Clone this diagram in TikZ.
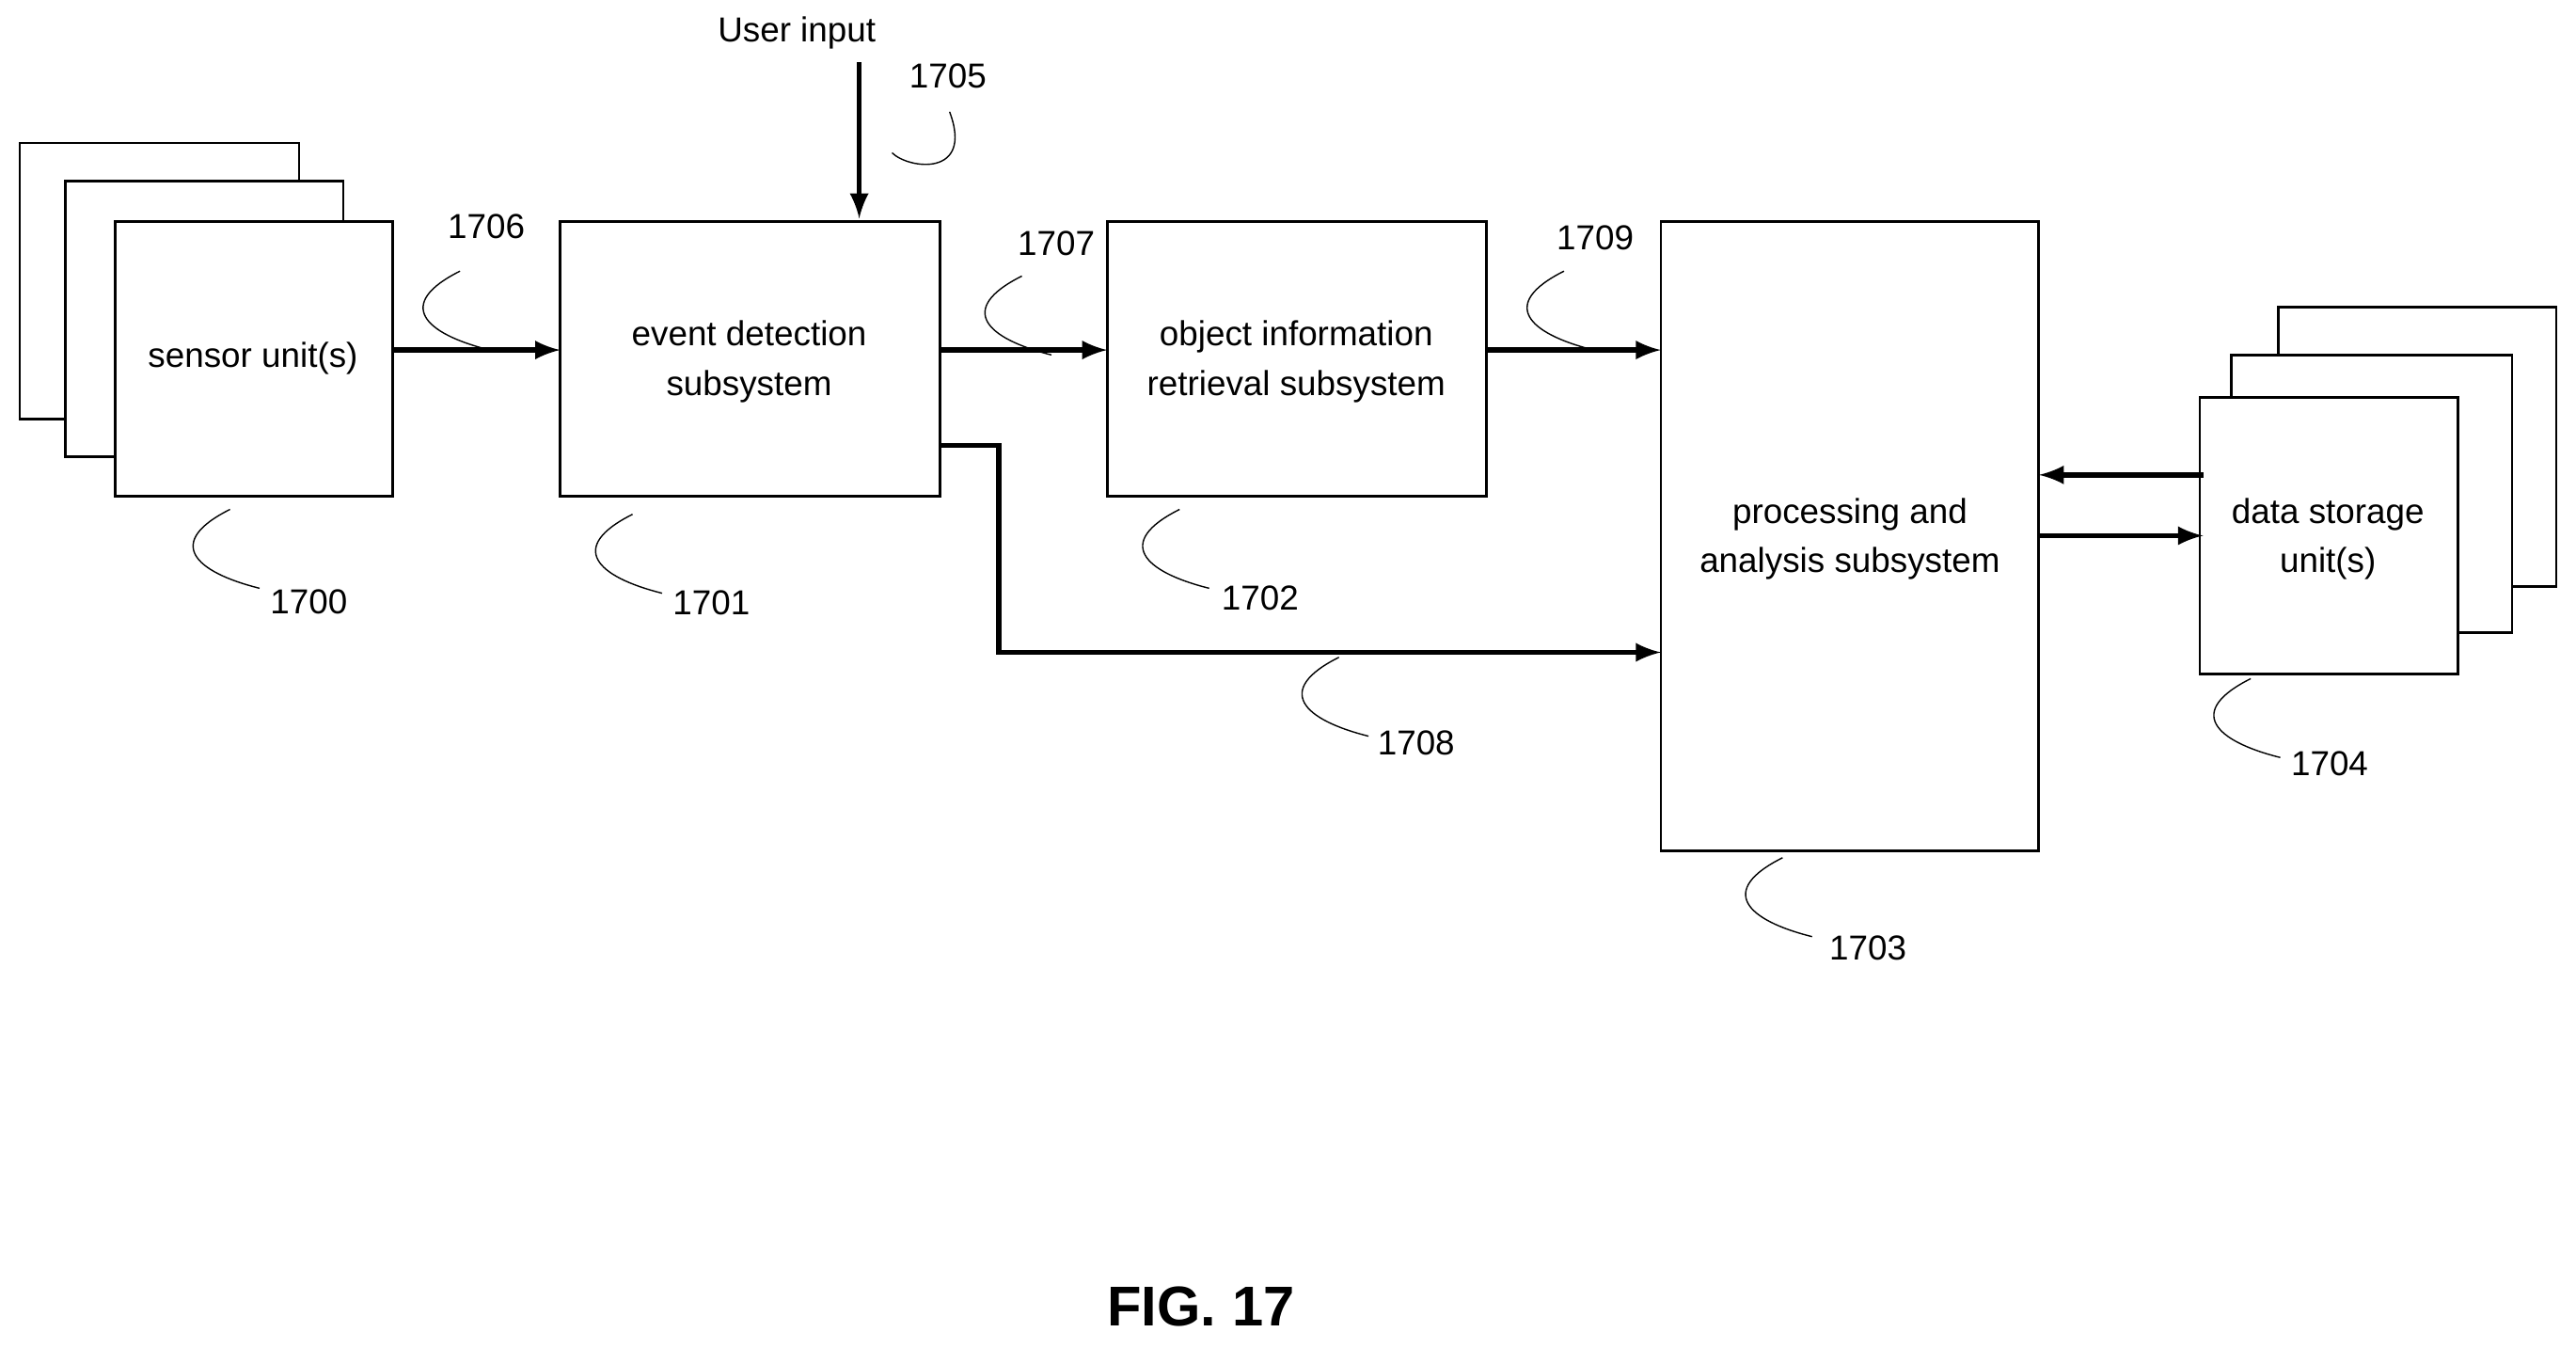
\documentclass[tikz,border=0pt]{standalone}
\usepackage{fontspec}
\setmainfont{Liberation Sans}
\begin{document}
\begin{tikzpicture}[>=latex,x=0.0175cm,y=-0.0175cm,
  blk/.style={align=center,inner sep=0pt,font=\fontsize{10.5}{15}\selectfont},
  arr/.style={->,line width=1.6pt},
  lead/.style={thin},
  num/.style={font=\fontsize{10.5}{12}\selectfont}]
\useasboundingbox (0,0) rectangle (1568,820);
% sensor stack
\draw[thick,fill=white] (12,87) rectangle (182,255);
\draw[thick,fill=white] (40,110) rectangle (209,278);
\path
(70,135)   coordinate (s0)   (239,302)  coordinate (s1)
(341,135)  coordinate (e0)   (572,302)  coordinate (e1)
(674,135)  coordinate (o0)   (905,302)  coordinate (o1)
(1011,135) coordinate (p0)   (1241,518) coordinate (p1);
\draw[thick,fill=white] (s0) rectangle (s1);
\draw[thick] (e0) rectangle (e1);
\draw[thick] (o0) rectangle (o1);
\draw[thick] (p0) rectangle (p1);
% data stack
\draw[thick,fill=white] (1387,187) rectangle (1556,357);
\draw[thick,fill=white] (1358,216) rectangle (1529,385);
\draw[thick,fill=white] (1339,242) rectangle (1496,410);
\path
(154,218)  node[blk] (sensor) {sensor unit(s)}
(456,220)  node[blk] (event) {event detection\\subsystem}
(789,220)  node[blk] (object) {object information\\retrieval subsystem}
(1126,328) node[blk] (proc) {processing and\\analysis subsystem}
(1417,328) node[blk] (data) {data storage\\unit(s)}
(485,20)   node[num] (user) {User input}
(731,795)  node[font=\bfseries\fontsize{17}{20}\selectfont] (fig) {FIG. 17};
\coordinate (u0) at (523,38);
\draw[arr] (u0)--(523,133);
\draw[arr] (239,213)--(341,213);
\draw[arr] (572,213)--(674,213);
\draw[arr] (905,213)--(1011,213);
\draw[arr] (572,271)-|(608,397)--(1011,397);
\draw[arr] (1341,289)--(1241,289);
\draw[arr] (1241,326)--(1341,326);
% reference numerals
\foreach \a/\b/\t/\lx/\ly in {
  280/165/1706/296/138, 140/310/1700/188/366, 385/313/1701/433/367,
  622/168/1707/643/148, 718/310/1702/767/364, 952/165/1709/971/145,
  815/400/1708/862/452, 1085/522/1703/1137/577, 1370/413/1704/1418/465}
  {\draw[lead] (\a,\b) .. controls +(-40,20) and +(-40,-10) .. +(18,48);
   \node[num] (n\t) at (\lx,\ly) {\t};}
\draw[lead] (578,68) .. controls +(15,40) and +(10,10) .. (543,93);
\node[num] (n1705) at (577,46) {1705};
\end{tikzpicture}
\end{document}
